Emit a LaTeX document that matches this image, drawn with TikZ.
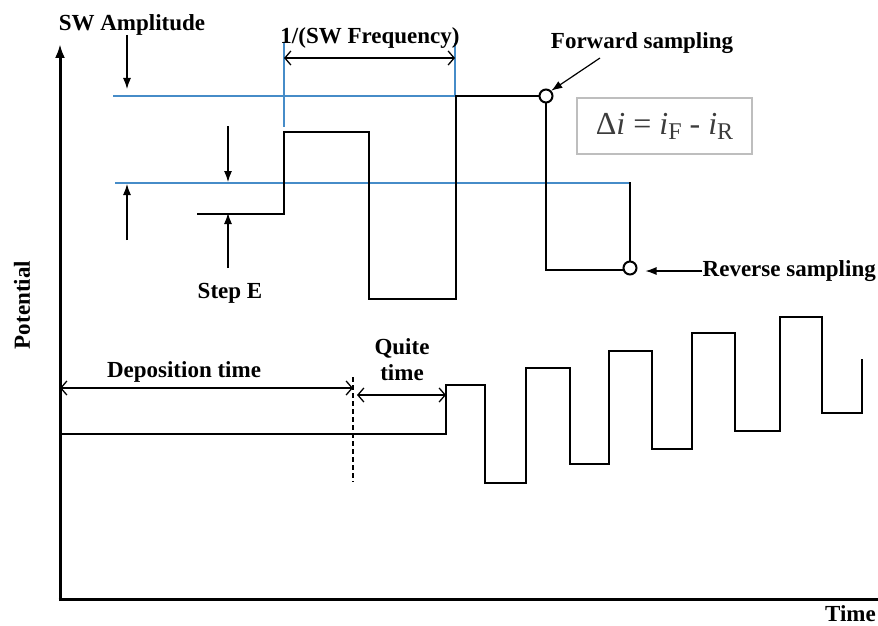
\documentclass[tikz,border=0pt]{standalone}
\usepackage{fontspec}
\setmainfont{Liberation Serif}
\usetikzlibrary{arrows.meta}
\definecolor{swblue}{RGB}{70,140,200}
\definecolor{boxgray}{RGB}{190,190,190}
\definecolor{eqgray}{RGB}{60,60,60}
\begin{document}
\begin{tikzpicture}[x=1pt,y=-1pt,
  lbl/.style={font=\fontsize{23}{26}\selectfont\bfseries, inner sep=0pt, align=center},
  wave/.style={line width=2.3pt, line join=miter, line cap=rect},
  axis/.style={line width=3pt},
  blueline/.style={swblue, line width=1.4pt},
  dimarrow/.style={{Straight Barb[length=6pt,width=14pt,line width=1.3pt]}-{Straight Barb[length=6pt,width=14pt,line width=1.3pt]}, line width=1.3pt},
  ptr/.style={-{Latex[length=11pt,width=8pt]}, line width=1.2pt},
  sample/.style={circle, draw, line width=2pt, fill=white, minimum size=13pt, inner sep=0pt}
]
\useasboundingbox (0,0) rectangle (878,626);

% axes
\coordinate (O) at (60,599);
\coordinate (ytop) at (60,44);
\coordinate (xend) at (878,599);
\draw[axis, -{Latex[length=14pt,width=10pt]}] (60,601) -- (ytop);
\draw[axis] (58.5,599) -- (xend);
\node[lbl, rotate=90] (pot) at (22,305) {Potential};
\node[lbl, anchor=east] (time) at (876,614) {Time};

% blue reference lines
\draw[blueline] (113,96) -- (456,96);
\draw[blueline] (115,183) -- (631,183);
\draw[blueline] (284,43) -- (284,127);
\draw[blueline] (455,43) -- (455,96);

% SW amplitude
\node[lbl] (swamp) at (132,25) {SW Amplitude};
\coordinate (a1s) at (127,35); \coordinate (a1e) at (127,89);
\draw[ptr] (a1s) -- (a1e);
\coordinate (a2s) at (127,240); \coordinate (a2e) at (127,184);
\draw[ptr] (a2s) -- (a2e);

% 1/(SW frequency)
\node[lbl] (freq) at (370,38) {1/(SW Frequency)};
\coordinate (f1) at (284,58); \coordinate (f2) at (455,58);
\draw[dimarrow] (f1) -- (f2);

% Step E
\node[lbl] (stepe) at (230,293) {Step E};
\coordinate (s1s) at (228,126); \coordinate (s1e) at (228,182);
\draw[ptr] (s1s) -- (s1e);
\coordinate (s2s) at (228,268); \coordinate (s2e) at (228,213);
\draw[ptr] (s2s) -- (s2e);

% upper waveform
\coordinate (fwdc) at (546,96);
\coordinate (revc) at (630,268);
\draw[wave] (198,214) -- (284,214) -- (284,132) -- (369,132) -- (369,299) -- (456,299) -- (456,96) -- (fwdc);
\draw[wave] (fwdc) -- (546,270) -- (revc |- 0,270);
\draw[wave] (630,183) -- (revc);
\node[sample] (fwd) at (fwdc) {};
\node[sample] (rev) at (revc) {};

% sampling labels
\node[lbl] (fwdlbl) at (642,43) {Forward sampling};
\coordinate (fa) at (600,58);
\draw[ptr] (fa) -- (fwd.north east);
\node[lbl, anchor=east] (revlbl) at (876,271) {Reverse sampling};
\draw[ptr] (revlbl.west) -- ([xshift=8pt]rev.east |- revlbl.west);

% equation box
\node[draw=boxgray, line width=1.2pt, minimum width=175pt, minimum height=56pt, text=eqgray,
      font=\fontsize{32}{34}\selectfont] (eq) at (664.5,126)
  {Δ\textit{i} = \textit{i}\raisebox{-0.35ex}{\fontsize{24}{26}\selectfont F} - \textit{i}\raisebox{-0.35ex}{\fontsize{24}{26}\selectfont R}};

% lower part
\node[lbl] (dep) at (184,372) {Deposition time};
\node[lbl] (quite) at (402,360) {Quite\\time};
\coordinate (d1) at (60,388); \coordinate (d2) at (353,388);
\draw[dimarrow] (d1) -- (d2);
\draw[line width=1.4pt, dash pattern=on 5pt off 3pt] (353,377) -- (353,482);
\coordinate (q1) at (357,395); \coordinate (q2) at (446,395);
\draw[dimarrow] (q1) -- (q2);

\draw[wave] (60,434) -- (446,434) -- (446,385) -- (485,385) -- (485,483) -- (526,483)
  -- (526,368) -- (570,368) -- (570,464) -- (609,464) -- (609,351) -- (652,351)
  -- (652,449) -- (692,449) -- (692,333) -- (735,333) -- (735,431) -- (780,431)
  -- (780,317) -- (822,317) -- (822,413) -- (862,413) -- (862,360);
\end{tikzpicture}
\end{document}
